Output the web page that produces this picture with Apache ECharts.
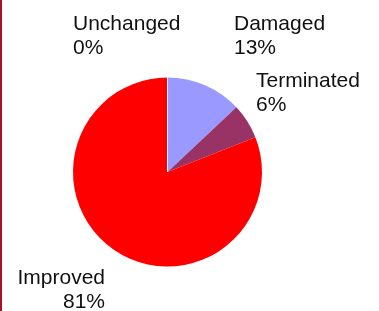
<!DOCTYPE html>
<html>
<head>
<meta charset="utf-8">
<script src="https://cdn.jsdelivr.net/npm/echarts@6/dist/echarts.min.js"></script>
<style>
html,body{margin:0;padding:0;background:#fff;}
#c{width:379px;height:311px;}
</style>
</head>
<body>
<div id="c"></div>
<script>
const categories = ['Damaged', 'Terminated', 'Improved', 'Unchanged'];
const values = [13, 6, 81, 0];
const colors = ['#9999ff', '#993366', '#ff0000', '#ffffcc'];
// label anchor positions (top-left or top-right of text block) and alignment
const labelPos = [
  {x: 234, y: 12, align: 'left'},
  {x: 256, y: 69, align: 'left'},
  {x: 105, y: 266, align: 'right'},
  {x: 73, y: 12, align: 'left'}
];

const chart = echarts.init(document.getElementById('c'), null, {renderer: 'canvas'});
chart.setOption({
  animation: false,
  backgroundColor: '#fff',
  graphic: [{
    type: 'rect', left: 0, top: 0,
    shape: {x: 0, y: 0, width: 2, height: 311},
    style: {fill: '#a80f2c'}
  }],
  series: [{
    type: 'pie',
    center: [167.5, 172],
    radius: [0, 94.5],
    startAngle: 90,
    clockwise: true,
    avoidLabelOverlap: false,
    label: {
      show: true,
      fontFamily: 'Liberation Sans, Arial, sans-serif',
      fontSize: 21,
      lineHeight: 24,
      color: '#111',
      formatter: p => p.name + '\n' + Math.round(p.percent) + '%'
    },
    labelLine: {show: false},
    labelLayout: function (params) {
      const lp = labelPos[params.dataIndex];
      return {x: lp.x, y: lp.y, align: lp.align, verticalAlign: 'top', hideOverlap: false};
    },
    data: categories.map((n, i) => ({
      name: n, value: values[i],
      itemStyle: i === 3 ? {color: colors[i], borderColor: '#fff', borderWidth: 1} : {color: colors[i], borderWidth: 0}
    }))
  }]
});
</script>
</body>
</html>
